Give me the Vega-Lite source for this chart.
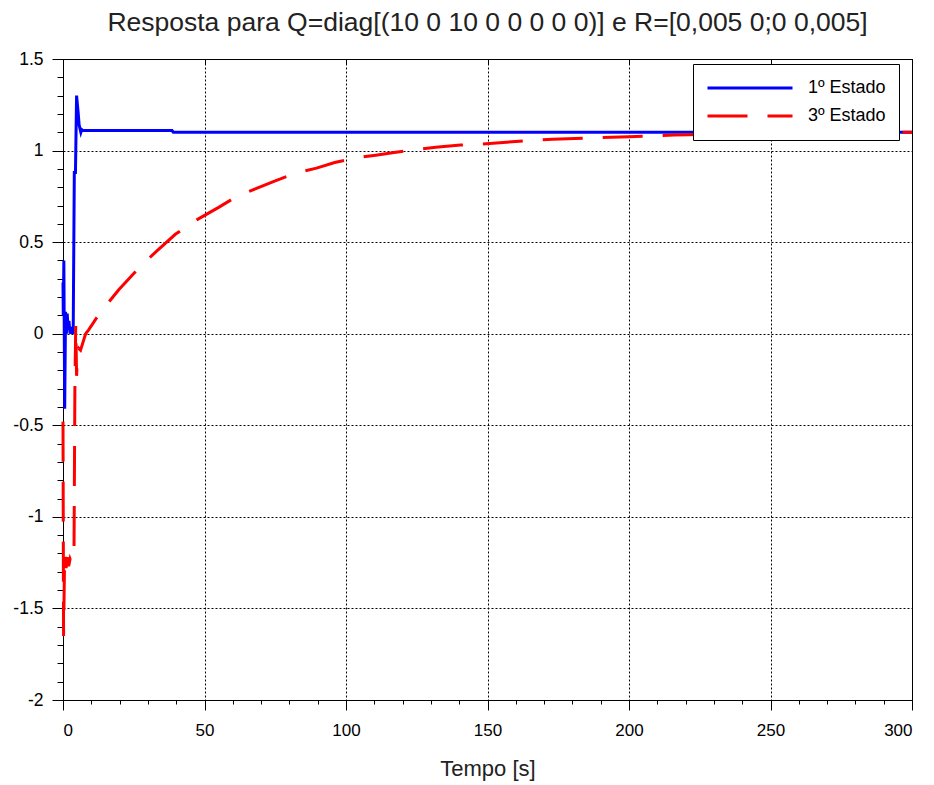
{
  "$schema": "https://vega.github.io/schema/vega-lite/v6.json",
  "autosize": "none",
  "width": 849,
  "height": 641,
  "padding": {"left": 63, "top": 59, "right": 22, "bottom": 85},
  "background": "white",
  "config": {
    "view": {"stroke": "black", "strokeWidth": 1},
    "font": "Liberation Sans"
  },
  "title": {
    "text": "Resposta para Q=diag[(10 0 10 0 0 0 0 0)] e R=[0,005 0;0 0,005]",
    "fontSize": 26.5,
    "fontWeight": "normal",
    "font": "Liberation Sans",
    "color": "#222222",
    "anchor": "middle",
    "offset": 14
  },
  "data": {
    "values": [
      {"t": 0, "v": 0.28, "s": "1º Estado"},
      {"t": 0.1, "v": 0.1, "s": "1º Estado"},
      {"t": 0.3, "v": 0.4, "s": "1º Estado"},
      {"t": 0.6, "v": -0.41, "s": "1º Estado"},
      {"t": 0.9, "v": 0.12, "s": "1º Estado"},
      {"t": 1.2, "v": 0.0, "s": "1º Estado"},
      {"t": 1.5, "v": 0.11, "s": "1º Estado"},
      {"t": 1.8, "v": 0.02, "s": "1º Estado"},
      {"t": 2.1, "v": 0.07, "s": "1º Estado"},
      {"t": 2.5, "v": 0.0, "s": "1º Estado"},
      {"t": 3.0, "v": 0.02, "s": "1º Estado"},
      {"t": 3.6, "v": 0.0, "s": "1º Estado"},
      {"t": 4.0, "v": 0.88, "s": "1º Estado"},
      {"t": 4.4, "v": 0.88, "s": "1º Estado"},
      {"t": 4.8, "v": 1.3, "s": "1º Estado"},
      {"t": 5.1, "v": 1.25, "s": "1º Estado"},
      {"t": 5.4, "v": 1.2, "s": "1º Estado"},
      {"t": 5.7, "v": 1.14, "s": "1º Estado"},
      {"t": 6.0, "v": 1.12, "s": "1º Estado"},
      {"t": 6.3, "v": 1.1, "s": "1º Estado"},
      {"t": 6.6, "v": 1.115, "s": "1º Estado"},
      {"t": 7, "v": 1.11, "s": "1º Estado"},
      {"t": 38.5, "v": 1.11, "s": "1º Estado"},
      {"t": 39, "v": 1.1, "s": "1º Estado"},
      {"t": 300, "v": 1.1, "s": "1º Estado"},
      {"t": 0, "v": -0.48, "s": "3º Estado"},
      {"t": 0.2, "v": -1.65, "s": "3º Estado"},
      {"t": 0.5, "v": -1.3, "s": "3º Estado"},
      {"t": 0.8, "v": -1.2, "s": "3º Estado"},
      {"t": 1.1, "v": -1.28, "s": "3º Estado"},
      {"t": 1.5, "v": -1.22, "s": "3º Estado"},
      {"t": 2.0, "v": -1.27, "s": "3º Estado"},
      {"t": 2.5, "v": -1.23, "s": "3º Estado"},
      {"t": 3.0, "v": -1.25, "s": "3º Estado"},
      {"t": 3.5, "v": -1.2, "s": "3º Estado"},
      {"t": 3.9, "v": -1.16, "s": "3º Estado"},
      {"t": 4.2, "v": -0.3, "s": "3º Estado"},
      {"t": 4.5, "v": 0.05, "s": "3º Estado"},
      {"t": 4.8, "v": -0.23, "s": "3º Estado"},
      {"t": 5.2, "v": -0.1, "s": "3º Estado"},
      {"t": 5.6, "v": -0.08, "s": "3º Estado"},
      {"t": 6.2, "v": -0.09, "s": "3º Estado"},
      {"t": 7, "v": -0.05, "s": "3º Estado"},
      {"t": 8, "v": 0.0, "s": "3º Estado"},
      {"t": 9, "v": 0.02, "s": "3º Estado"},
      {"t": 12, "v": 0.09, "s": "3º Estado"},
      {"t": 15, "v": 0.15, "s": "3º Estado"},
      {"t": 19.7, "v": 0.24, "s": "3º Estado"},
      {"t": 26.7, "v": 0.357, "s": "3º Estado"},
      {"t": 33, "v": 0.45, "s": "3º Estado"},
      {"t": 39.7, "v": 0.543, "s": "3º Estado"},
      {"t": 47.4, "v": 0.623, "s": "3º Estado"},
      {"t": 55, "v": 0.69, "s": "3º Estado"},
      {"t": 61, "v": 0.746, "s": "3º Estado"},
      {"t": 68.6, "v": 0.795, "s": "3º Estado"},
      {"t": 75, "v": 0.835, "s": "3º Estado"},
      {"t": 82.2, "v": 0.877, "s": "3º Estado"},
      {"t": 89.6, "v": 0.904, "s": "3º Estado"},
      {"t": 96, "v": 0.935, "s": "3º Estado"},
      {"t": 103.4, "v": 0.96, "s": "3º Estado"},
      {"t": 110.5, "v": 0.975, "s": "3º Estado"},
      {"t": 117, "v": 0.99, "s": "3º Estado"},
      {"t": 124.6, "v": 1.005, "s": "3º Estado"},
      {"t": 131.7, "v": 1.018, "s": "3º Estado"},
      {"t": 140.5, "v": 1.03, "s": "3º Estado"},
      {"t": 148, "v": 1.035, "s": "3º Estado"},
      {"t": 160, "v": 1.05, "s": "3º Estado"},
      {"t": 173, "v": 1.062, "s": "3º Estado"},
      {"t": 188, "v": 1.07, "s": "3º Estado"},
      {"t": 200, "v": 1.076, "s": "3º Estado"},
      {"t": 209, "v": 1.08, "s": "3º Estado"},
      {"t": 216, "v": 1.085, "s": "3º Estado"},
      {"t": 240, "v": 1.092, "s": "3º Estado"},
      {"t": 270, "v": 1.097, "s": "3º Estado"},
      {"t": 300, "v": 1.1, "s": "3º Estado"}
    ]
  },
  "resolve": {"axis": {"x": "independent", "y": "independent"}},
  "layer": [
    {
      "mark": {"type": "point", "opacity": 0},
      "encoding": {
        "x": {"field": "t", "type": "quantitative", "scale": {"domain": [0, 300], "nice": false, "zero": false},
          "axis": {"orient": "bottom", "values": [0,10,20,30,40,50,60,70,80,90,100,110,120,130,140,150,160,170,180,190,200,210,220,230,240,250,260,270,280,290,300],
            "labels": false, "grid": false, "domain": false, "tickSize": 4, "tickColor": "black", "tickWidth": 1, "title": null}},
        "y": {"field": "v", "type": "quantitative", "scale": {"domain": [-2, 1.5], "nice": false, "zero": false},
          "axis": {"orient": "left", "values": [-2,-1.9,-1.8,-1.7,-1.6,-1.5,-1.4,-1.3,-1.2,-1.1,-1,-0.9,-0.8,-0.7,-0.6,-0.5,-0.4,-0.3,-0.2,-0.1,0,0.1,0.2,0.3,0.4,0.5,0.6,0.7,0.8,0.9,1,1.1,1.2,1.3,1.4,1.5],
            "labels": false, "grid": false, "domain": false, "tickSize": 6, "tickColor": "black", "tickWidth": 1, "title": null}}
      }
    },
    {
      "mark": {"type": "point", "opacity": 0},
      "encoding": {
        "x": {"field": "t", "type": "quantitative",
          "axis": {"orient": "top", "values": [0,50,100,150,200,250,300], "labels": false, "grid": false, "domain": true, "domainColor": "black", "tickSize": -5, "tickColor": "black", "title": null}},
        "y": {"field": "v", "type": "quantitative",
          "axis": {"orient": "right", "values": [-2,-1.5,-1,-0.5,0,0.5,1,1.5], "labels": false, "grid": false, "domain": true, "domainColor": "black", "ticks": false, "title": null}}
      }
    },
    {
      "mark": {"type": "line", "strokeWidth": 3, "interpolate": "linear"},
      "encoding": {
        "x": {"field": "t", "type": "quantitative",
          "axis": {"orient": "bottom", "values": [0,50,100,150,200,250,300], "labelExpr": "datum.value + ''",
            "grid": true, "gridColor": "black", "gridDash": [2, 2], "gridWidth": 1, "gridOpacity": 1,
            "domainColor": "black", "domainWidth": 1, "tickColor": "black", "tickSize": 10, "tickWidth": 1,
            "labelFontSize": 17, "labelColor": "black", "labelPadding": 12, "labelFont": "Liberation Sans",
            "title": "Tempo [s]", "titleFontSize": 22, "titleFontWeight": "normal", "titleColor": "#222222", "titlePadding": 20, "titleFont": "Liberation Sans"}},
        "y": {"field": "v", "type": "quantitative",
          "axis": {"orient": "left", "values": [-2,-1.5,-1,-0.5,0,0.5,1,1.5], "labelExpr": "datum.value + ''",
            "grid": true, "gridColor": "black", "gridDash": [2, 2], "gridWidth": 1, "gridOpacity": 1,
            "domainColor": "black", "domainWidth": 1, "tickColor": "black", "tickSize": 11, "tickWidth": 1,
            "labelFontSize": 17.5, "labelColor": "black", "labelPadding": 9, "labelFont": "Liberation Sans", "title": null}},
        "color": {"field": "s", "type": "nominal",
          "scale": {"domain": ["1º Estado", "3º Estado"], "range": ["#0000ff", "#ff0000"]},
          "legend": {"orient": "none", "legendX": 630, "legendY": 5, "title": null,
            "symbolType": "stroke", "symbolSize": 7225, "symbolStrokeWidth": 3, "clipHeight": 22,
            "fillColor": "white", "strokeColor": "black", "padding": 13,
            "labelFontSize": 18, "labelColor": "black", "labelFont": "Liberation Sans", "labelOffset": 14, "rowPadding": 6}},
        "strokeDash": {"field": "s", "type": "nominal",
          "scale": {"domain": ["1º Estado", "3º Estado"], "range": [[1, 0], [40, 20]]},
          "legend": {"orient": "none", "legendX": 630, "legendY": 5, "title": null,
            "symbolType": "stroke", "symbolSize": 7225, "symbolStrokeWidth": 3, "clipHeight": 22,
            "fillColor": "white", "strokeColor": "black", "padding": 13,
            "labelFontSize": 18, "labelColor": "black", "labelFont": "Liberation Sans", "labelOffset": 14, "rowPadding": 6}}
      }
    }
  ]
}
